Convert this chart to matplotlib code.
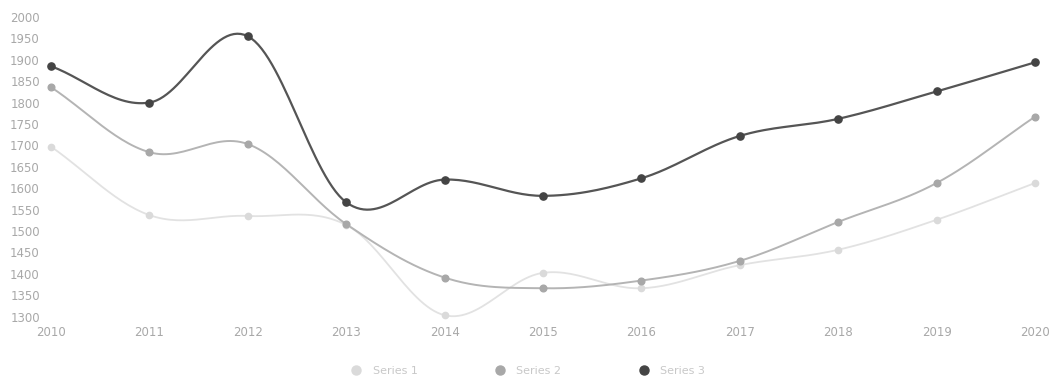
import numpy as np
import matplotlib
matplotlib.use("Agg")
import matplotlib.pyplot as plt
from matplotlib.lines import Line2D

years = [2010, 2011, 2012, 2013, 2014, 2015, 2016, 2017, 2018, 2019, 2020]
series_names = ["Series 1", "Series 2", "Series 3"]
light_vals = [1697, 1537, 1535, 1514, 1303, 1402, 1366, 1420, 1456, 1526, 1612]
gray_vals = [1836, 1684, 1703, 1516, 1391, 1366, 1384, 1430, 1521, 1612, 1767]
dark_vals = [1885, 1800, 1955, 1567, 1620, 1582, 1623, 1722, 1762, 1826, 1894]
y_ticks = list(range(1300, 2001, 50))

line_colors = ["#e2e2e2", "#b4b4b4", "#555555"]
marker_colors = ["#dadada", "#a8a8a8", "#444444"]
text_color = "#a8a8a8"

fig = plt.figure(figsize=(10.5, 3.81), dpi=100)
ax = fig.add_axes([51 / 1050, 1 - 316.5 / 381, (1035 - 51) / 1050, 299.5 / 381])
ax.set_xlim(2010, 2020)
ax.set_ylim(1300, 2000)
for s in ax.spines.values():
    s.set_visible(False)
ax.set_xticks(years)
ax.set_yticks(y_ticks)
ax.tick_params(length=0, colors=text_color, labelsize=8.5)
ax.tick_params(axis="x", pad=7)
ax.tick_params(axis="y", pad=8)


def smooth_curve(xs, ys, smooth=0.35, n=30):
    # bezier smoothing (catmull-rom like), done in display space
    pts = ax.transData.transform(np.column_stack([xs, ys]))
    out = []
    m = len(pts)
    for i in range(m - 1):
        p0, p1 = pts[i], pts[i + 1]
        cps = []
        for j, p in ((i, p0), (i + 1, p1)):
            prev = pts[j - 1] if j > 0 else p
            nxt = pts[j + 1] if j < m - 1 else p
            v = (nxt - prev) * smooth
            d0 = abs(p[0] - prev[0])
            d1 = abs(nxt[0] - p[0])
            r = d1 / (d0 + d1) if d0 + d1 > 0 else 0.5
            cps.append((p - v * (1 - r), p + v * r))
        c1 = cps[0][1]
        c2 = cps[1][0]
        t = np.linspace(0, 1, n)[:, None]
        seg = ((1 - t) ** 3) * p0 + 3 * ((1 - t) ** 2) * t * c1 + 3 * (1 - t) * t ** 2 * c2 + t ** 3 * p1
        out.append(seg if i == 0 else seg[1:])
    path = np.vstack(out)
    return ax.transData.inverted().transform(path)


widths = [1.3, 1.4, 1.6]
sizes = [4.5, 4.8, 5.2]
handles = []
for vals, lc, mc, lw, ms, name in zip([light_vals, gray_vals, dark_vals], line_colors,
                                       marker_colors, widths, sizes, series_names):
    curve = smooth_curve(years, vals)
    ax.plot(curve[:, 0], curve[:, 1], color=lc, lw=lw, clip_on=False, zorder=2)
    ax.plot(years, vals, "o", color=mc, ms=ms, clip_on=False, zorder=3)
    handles.append(Line2D([], [], marker="o", ls="none", color=mc, ms=6.5, label=name))

leg = fig.legend(handles=handles, loc="center", bbox_to_anchor=(0.5, 1 - 371 / 381),
                 ncol=3, frameon=False, fontsize=8, columnspacing=6.4, handletextpad=0.5)
for t in leg.get_texts():
    t.set_color("#c8c8c8")

fig.savefig("out.png", dpi=100)
